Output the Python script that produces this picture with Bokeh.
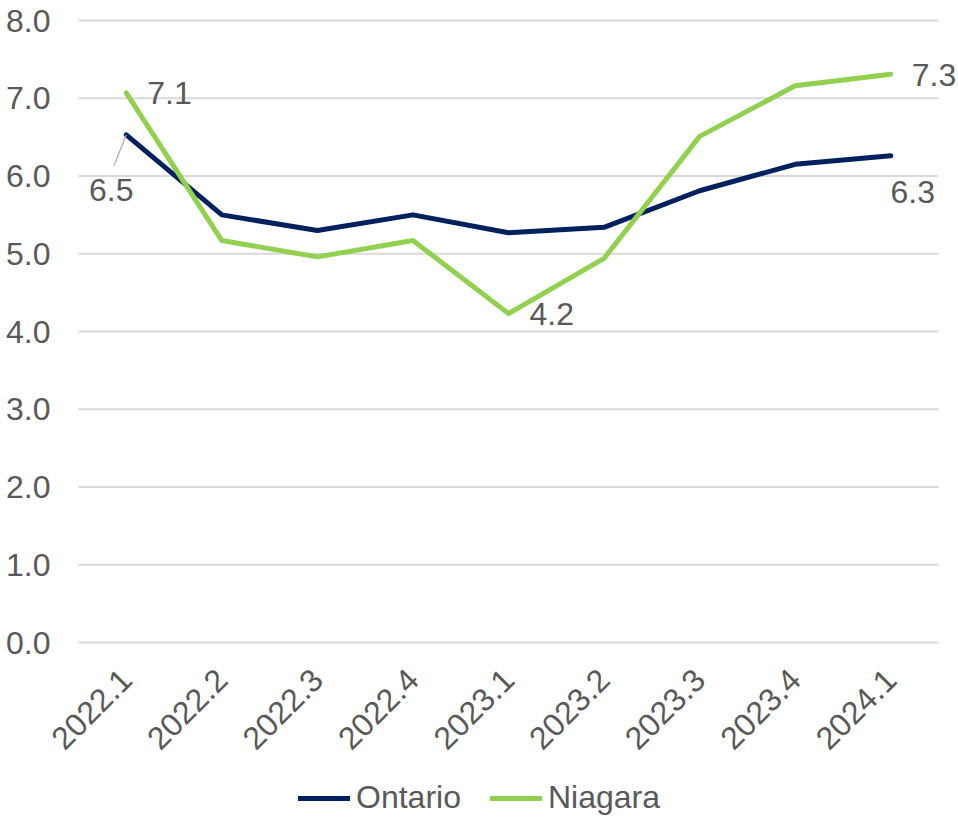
import math
from bokeh.plotting import figure
from bokeh.models import (Range1d, FixedTicker, Legend, LegendItem, ColumnDataSource,
                          NumeralTickFormatter, Label)
from bokeh.embed import file_html
from bokeh.resources import INLINE

# ---- data ----
quarters = ["2022.1", "2022.2", "2022.3", "2022.4", "2023.1",
            "2023.2", "2023.3", "2023.4", "2024.1"]
ontario = [6.53, 5.50, 5.30, 5.50, 5.27, 5.34, 5.81, 6.15, 6.26]
niagara = [7.07, 5.17, 4.96, 5.17, 4.23, 4.94, 6.51, 7.16, 7.31]
y_ticks = [0, 1, 2, 3, 4, 5, 6, 7, 8]

FONT = "Liberation Sans"
TXT = "#595959"
NAVY = "#002060"
GREEN = "#92D050"
FS = "32px"

xs = list(range(len(quarters)))
n = len(quarters)

# layout geometry (pixels): the frame covers the whole figure, the axes are
# drawn at fixed locations inside it so that nothing gets clipped
W, H = 958, 818
left_pad, top_pad = 78, 20           # where the value area starts
plot_w, plot_h = 860, 622            # area covered by categories / value scale
px_x = plot_w / n
y_top = max(y_ticks)
px_y = plot_h / y_top
x_start = -0.5 - left_pad / px_x
x_end = -0.5 + (W - left_pad) / px_x
y_hi = y_top + top_pad / px_y
y_lo = -(H - top_pad - plot_h) / px_y

p = figure(frame_width=W, frame_height=H, output_backend="svg",
           toolbar_location=None,
           x_range=Range1d(x_start, x_end), y_range=Range1d(y_lo, y_hi),
           min_border=0)
p.outline_line_color = None
p.background_fill_color = "white"
p.border_fill_color = "white"

# axes
p.yaxis.fixed_location = -0.5
p.yaxis.ticker = FixedTicker(ticks=y_ticks)
p.yaxis.formatter = NumeralTickFormatter(format="0.0")
p.yaxis.axis_line_color = None
p.yaxis.major_tick_line_color = None
p.yaxis.minor_tick_line_color = None
p.yaxis.major_tick_out = 0
p.yaxis.major_label_standoff = 28
p.yaxis.major_label_text_font = FONT
p.yaxis.major_label_text_font_size = FS
p.yaxis.major_label_text_color = TXT

p.xaxis.fixed_location = 0
p.xaxis.ticker = FixedTicker(ticks=xs)
p.xaxis.major_label_overrides = {i: q for i, q in zip(xs, quarters)}
p.xaxis.axis_line_color = None
p.xaxis.major_tick_line_color = None
p.xaxis.minor_tick_line_color = None
p.xaxis.major_tick_out = 0
p.xaxis.major_label_orientation = math.pi / 4
p.xaxis.major_label_standoff = 32
p.xaxis.major_label_text_font = FONT
p.xaxis.major_label_text_font_size = FS
p.xaxis.major_label_text_color = TXT

# horizontal gridlines spanning the category slots only
p.grid.grid_line_color = None
p.segment(x0=[-0.5] * len(y_ticks), x1=[n - 0.5] * len(y_ticks), y0=y_ticks, y1=y_ticks,
          line_color="#d9d9d9", line_width=2, level="underlay")

src = ColumnDataSource(dict(x=xs, ontario=ontario, niagara=niagara))
r_ont = p.line("x", "ontario", source=src, line_color=NAVY, line_width=5,
               line_join="round", line_cap="round")
r_nia = p.line("x", "niagara", source=src, line_color=GREEN, line_width=5,
               line_join="round", line_cap="round")

# leader line for first Ontario label
p.segment(x0=[xs[0]], y0=[ontario[0]], x1=[xs[0] - 0.13], y1=[ontario[0] - 0.40],
          line_color="#a6a6a6", line_width=1.2)

def label(idx, series, xo, yo, align):
    lab = Label(x=xs[idx], y=series[idx], text=f"{series[idx]:.1f}",
                x_offset=xo, y_offset=yo, text_align=align, text_baseline="middle",
                text_font=FONT, text_font_size=FS, text_color=TXT)
    p.add_layout(lab)

label(0, ontario, -15, -55, "center")
label(8, ontario, 22, -36, "center")
label(0, niagara, 21, 0, "left")
label(4, niagara, 21, 0, "left")
label(8, niagara, 21, -1, "left")

legend = Legend(items=[LegendItem(label="Ontario", renderers=[r_ont]),
                       LegendItem(label="Niagara", renderers=[r_nia])],
                orientation="horizontal", location=(left_pad + 220, 2),
                label_text_font=FONT, label_text_font_size=FS, label_text_color=TXT,
                glyph_width=52, label_standoff=6, spacing=29,
                padding=0, margin=0,
                border_line_color=None, background_fill_alpha=0)
p.add_layout(legend, "center")

open("out.html", "w").write(file_html(p, INLINE))
